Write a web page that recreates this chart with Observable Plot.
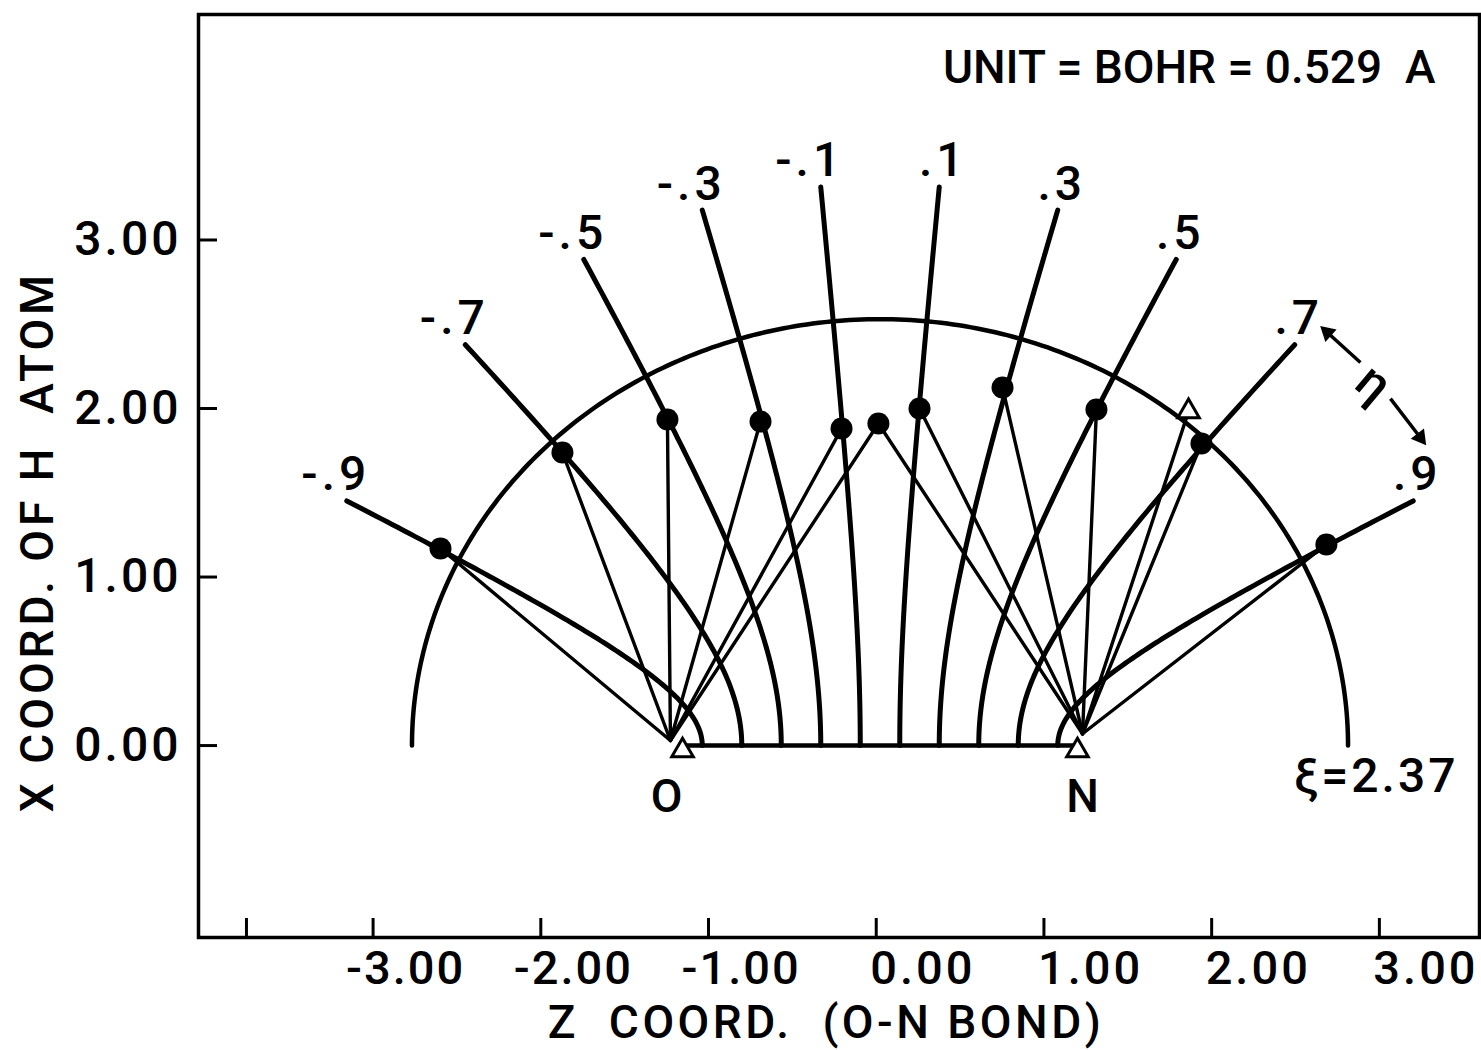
<!DOCTYPE html>
<html><head><meta charset="utf-8">
<script src="https://cdn.jsdelivr.net/npm/d3@7"></script>
<script src="https://cdn.jsdelivr.net/npm/@observablehq/plot@0.6"></script>
<style>
html,body{margin:0;padding:0;background:#fff;}
#chart svg{display:block;background:#fff;}
</style></head><body><div id="chart"></div>
<script>
// ---------- data (units: bohr) ----------
const etaValues = [-0.9, -0.7, -0.5, -0.3, -0.1, 0.1, 0.3, 0.5, 0.7, 0.9];
const etaLabels = ["-.9", "-.7", "-.5", "-.3", "-.1", ".1", ".3", ".5", ".7", ".9"];
const xiEllipse = 2.37;
const xiLineEnd = 3.0;

const atomNames = ["O", "N"];
const atomZ = [-1.155, 1.200];
const atomX = [-0.03, -0.03];
const bondZ = [-1.227, 1.230];   // where the bond lines meet near each atom
const bondX = [0.03, 0.07];

// H atom positions (filled dots) and the atoms they are joined to
const dotZ = [-2.598, -1.871, -1.245, -0.690, -0.207, 0.013, 0.258, 0.753, 1.313, 1.939, 2.684];
const dotX = [1.169, 1.739, 1.935, 1.923, 1.881, 1.911, 2.000, 2.125, 1.994, 1.792, 1.193];
const dotBonds = ["O", "O", "O", "O", "O", "ON", "N", "N", "N", "N", "N"];
// open-triangle H position
const altHZ = [1.862];
const altHX = [1.982];
const altHBonds = ["N"];

const xTickValues = [-3, -2, -1, 0, 1, 2, 3];
const xTickLabels = ["-3.00", "-2.00", "-1.00", "0.00", "1.00", "2.00", "3.00"];
const xExtraTicks = [-3.755];
const yTickValues = [0, 1, 2, 3];
const yTickLabels = ["0.00", "1.00", "2.00", "3.00"];

// eta double-arrow annotation
const etaArrowFromZ = [2.887, 3.066];
const etaArrowFromX = [2.273, 2.059];
const etaArrowToZ = [2.690, 3.244];
const etaArrowToX = [2.451, 1.828];
const etaSymbolZ = [2.965];
const etaSymbolX = [2.148];

// y-axis title anchor (left of the frame)
const yTitleZ = [-4.995];
const yTitleX = [1.211];

const unitText = "UNIT = BOHR = 0.529\u00a0\u00a0A";
const xTitle = "Z\u00a0\u00a0COORD.\u00a0\u00a0(O-N\u00a0BOND)";
const yTitle = "X\u00a0COORD.\u00a0OF\u00a0H\u00a0\u00a0ATOM";
const xiText = "\u03be=2.37";

// ---------- prolate spheroidal geometry ----------
const z0 = (atomZ[0] + atomZ[1]) / 2;
const cf = (atomZ[1] - atomZ[0]) / 2;
const pt = (xi, eta) => ({
  z: z0 + cf * xi * eta,
  x: cf * Math.sqrt(Math.max(0, xi * xi - 1)) * Math.sqrt(Math.max(0, 1 - eta * eta))
});

const hyper = [];
etaValues.forEach(eta => {
  for (let i = 0; i <= 120; i++) {
    const t = i / 120;
    const xi = 1 + (xiLineEnd - 1) * t * t;
    hyper.push({eta, ...pt(xi, eta)});
  }
});
const ellipse = [];
for (let i = 0; i <= 240; i++) {
  const eta = -Math.cos(Math.PI * i / 240);
  ellipse.push(pt(xiEllipse, eta));
}
const baseline = [pt(1, -1), pt(1, 1)];

const atoms = atomNames.map((n, i) => ({name: n, z: atomZ[i], x: atomX[i], bz: bondZ[i], bx: bondX[i]}));
const atomBy = Object.fromEntries(atoms.map(a => [a.name, a]));
const dots = dotZ.map((z, i) => ({z, x: dotX[i], bonds: dotBonds[i]}));
const altH = altHZ.map((z, i) => ({z, x: altHX[i], bonds: altHBonds[i]}));
const links = [];
[...dots, ...altH].forEach(d => {
  for (const ch of d.bonds) {
    const a = atomBy[ch];
    links.push({x1: a.bz, y1: a.bx, x2: d.z, y2: d.x});
  }
});

const labelsNeg = etaValues.map((e, i) => ({e, t: etaLabels[i], ...pt(xiLineEnd, e)})).filter(d => d.e < 0);
const labelsPos = etaValues.map((e, i) => ({e, t: etaLabels[i], ...pt(xiLineEnd, e)})).filter(d => d.e > 0);

const xTicksNeg = xTickValues.map((v, i) => ({v, t: xTickLabels[i]})).filter(d => d.v < 0);
const xTicksPos = xTickValues.map((v, i) => ({v, t: xTickLabels[i]})).filter(d => d.v >= 0);
const yTicks = yTickValues.map((v, i) => ({v, t: yTickLabels[i]}));

const arrows = etaArrowFromZ.map((z, i) => {
  const x1 = z, y1 = etaArrowFromX[i], x2 = etaArrowToZ[i], y2 = etaArrowToX[i];
  const ang = Math.atan2(-(y2 - y1), x2 - x1) * 180 / Math.PI + 90;
  return {x1, y1, x2, y2, ang};
});

const ellipseEnd = pt(xiEllipse, 1);

const W = 1481, H = 1050;
const mL = 198, mT = 14, mR = 2, mB = 113;
const plotH = H - mT - mB, plotW = W - mL - mR;

const FONT = "Roboto, 'DejaVu Sans', sans-serif";
const THICK = 5, THIN = 3.4;

const chart = Plot.plot({
  width: W, height: H,
  marginLeft: mL, marginTop: mT, marginRight: mR, marginBottom: mB,
  style: {fontFamily: FONT, background: "#fff", color: "#000"},
  x: {domain: [-4.041, 3.597], axis: null},
  y: {domain: [-1.139, 4.338], axis: null},
  marks: [
    Plot.frame({stroke: "#000", strokeWidth: 3.5}),
    Plot.ruleX([...xTickValues, ...xExtraTicks], {x: d => d, insetTop: plotH - 19, stroke: "#000", strokeWidth: 3}),
    Plot.ruleY(yTickValues, {y: d => d, insetRight: plotW - 19, stroke: "#000", strokeWidth: 3}),
    Plot.text(xTicksNeg, {x: "v", text: "t", frameAnchor: "bottom", dy: 31, dx: -27, textAnchor: "start", lineAnchor: "middle", fontSize: 47, fontWeight: 500}),
    Plot.text(xTicksPos, {x: "v", text: "t", frameAnchor: "bottom", dy: 31, dx: -6, textAnchor: "start", lineAnchor: "middle", fontSize: 47, fontWeight: 500}),
    Plot.text(yTicks, {y: "v", text: "t", frameAnchor: "left", dx: -17, textAnchor: "end", lineAnchor: "middle", fontSize: 48, fontWeight: 500}),
    Plot.text([xTitle], {frameAnchor: "bottom", dy: 86, dx: -13, lineAnchor: "middle", fontSize: 46, fontWeight: 500}),
    Plot.text(yTitleZ.map((z, i) => ({z, x: yTitleX[i]})), {x: "z", y: "x", text: () => yTitle, rotate: -90, lineAnchor: "middle", fontSize: 46, fontWeight: 500}),
    Plot.text([unitText], {frameAnchor: "top-right", dx: -44, dy: 54, textAnchor: "end", lineAnchor: "middle", fontSize: 46, fontWeight: 500}),

    Plot.line(ellipse, {x: "z", y: "x", stroke: "#000", strokeWidth: THICK - 0.5, strokeLinecap: "round"}),
    Plot.line(hyper, {x: "z", y: "x", z: "eta", stroke: "#000", strokeWidth: THICK, strokeLinecap: "round"}),
    Plot.line(baseline, {x: "z", y: "x", stroke: "#000", strokeWidth: THICK - 0.5}),
    Plot.link(links, {x1: "x1", y1: "y1", x2: "x2", y2: "y2", stroke: "#000", strokeWidth: THIN, strokeLinecap: "round"}),
    Plot.dot(dots, {x: "z", y: "x", r: 11, fill: "#000", stroke: "none"}),
    Plot.dot(altH, {x: "z", y: "x", r: 8, symbol: "triangle", fill: "#fff", stroke: "#000", strokeWidth: 3}),
    Plot.dot(atoms, {x: "z", y: "x", r: 8, symbol: "triangle", fill: "#fff", stroke: "#000", strokeWidth: 3}),
    Plot.text(atoms.filter(a => a.name === "O"), {x: "z", y: 0, text: "name", dy: 52, dx: -16, fontSize: 46, fontWeight: 500}),
    Plot.text(atoms.filter(a => a.name === "N"), {x: "z", y: 0, text: "name", dy: 52, dx: 5, fontSize: 46, fontWeight: 500}),

    Plot.text(labelsNeg, {x: "z", y: "x", text: "t", dx: -11, dy: -26, fontSize: 48, fontWeight: 500}),
    Plot.text(labelsPos, {x: "z", y: "x", text: "t", dx: 4, dy: -26, fontSize: 48, fontWeight: 500}),
    Plot.text([xiText], {x: ellipseEnd.z, y: ellipseEnd.x, dx: 28, dy: 31, fontSize: 48, fontWeight: 500}),

    Plot.link(arrows, {x1: "x1", y1: "y1", x2: "x2", y2: "y2", stroke: "#000", strokeWidth: 3.5}),
    Plot.dot(arrows, {x: "x2", y: "y2", symbol: "triangle2", r: 8, fill: "#000", rotate: "ang"}),
    Plot.text(etaSymbolZ.map((z, i) => ({z, x: etaSymbolX[i]})), {x: "z", y: "x", text: () => "\u03b7", rotate: 40, fontSize: 50, fontWeight: 500})
  ]
});

// hand-lettered look: wider letter spacing on some texts
const spacing = new Map([
  [xTitle, "3.5px"], [yTitle, "4px"], [xiText, "3px"],
  ...xTickLabels.map(t => [t, "2px"]), ...yTickLabels.map(t => [t, "3px"]),
  ...etaLabels.map(t => [t, "4px"])
]);
d3.select(chart).selectAll("text").each(function () {
  const s = spacing.get(this.textContent);
  if (s) this.setAttribute("letter-spacing", s);
});
document.getElementById("chart").appendChild(chart);
</script>
</body></html>
